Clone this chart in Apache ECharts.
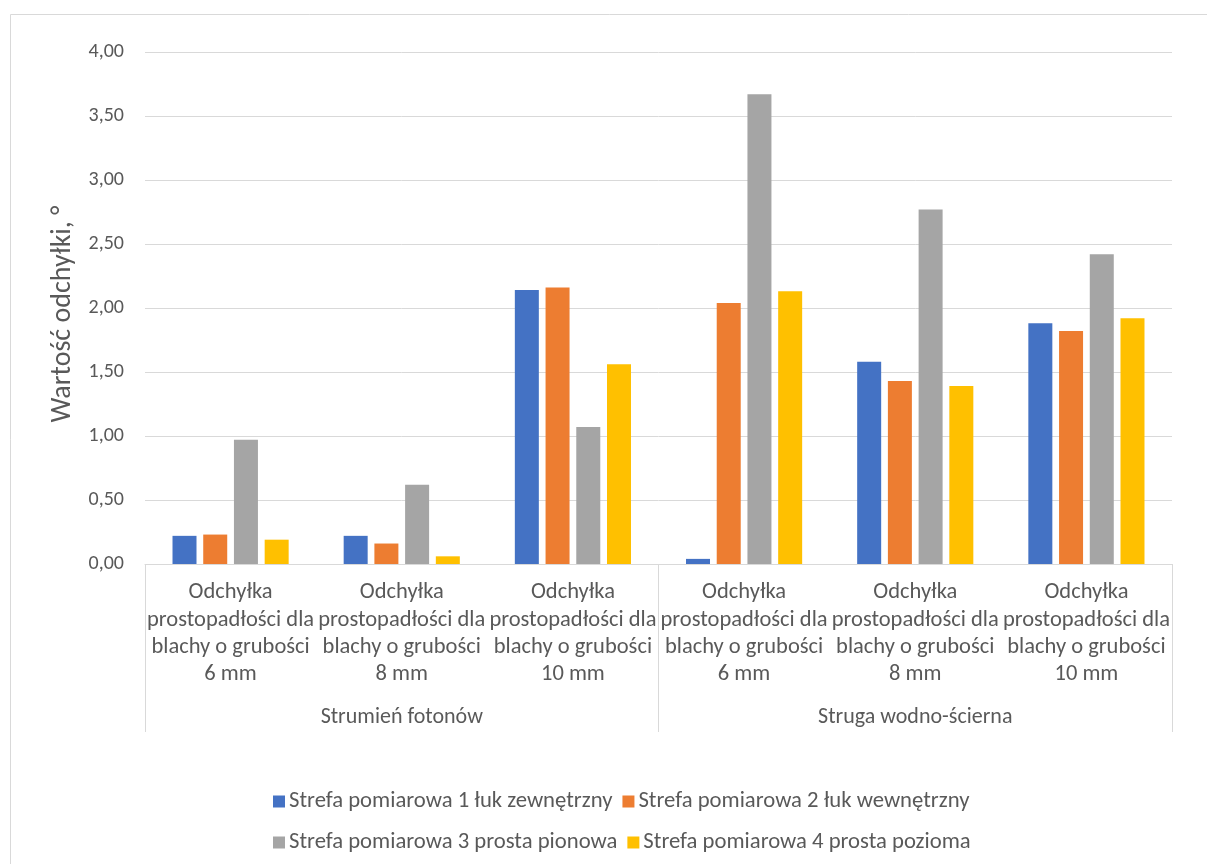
<!DOCTYPE html>
<html>
<head>
<meta charset="utf-8">
<script src="https://cdn.jsdelivr.net/npm/echarts@6/dist/echarts.min.js"></script>
<style>
  html, body { margin: 0; padding: 0; background: #ffffff; }
  #chart { width: 1207px; height: 864px; }
</style>
</head>
<body>
<div id="chart"></div>
<script>
// Categories (inner level) and groups (outer level)
const categories = [
  'Odchyłka\nprostopadłości dla\nblachy o grubości\n6 mm',
  'Odchyłka\nprostopadłości dla\nblachy o grubości\n8 mm',
  'Odchyłka\nprostopadłości dla\nblachy o grubości\n10 mm',
  'Odchyłka\nprostopadłości dla\nblachy o grubości\n6 mm',
  'Odchyłka\nprostopadłości dla\nblachy o grubości\n8 mm',
  'Odchyłka\nprostopadłości dla\nblachy o grubości\n10 mm'
];
const groups = ['Strumień fotonów', 'Struga wodno-ścierna'];

const seriesNames = [
  'Strefa pomiarowa 1 łuk zewnętrzny',
  'Strefa pomiarowa 2 łuk wewnętrzny',
  'Strefa pomiarowa 3 prosta pionowa',
  'Strefa pomiarowa 4 prosta pozioma'
];

// Values per measuring zone
const zone1 = [0.22, 0.22, 2.14, 0.04, 1.58, 1.88];
const zone2 = [0.23, 0.16, 2.16, 2.04, 1.43, 1.82];
const zone3 = [0.97, 0.62, 1.07, 3.67, 2.77, 2.42];
const zone4 = [0.19, 0.06, 1.56, 2.13, 1.39, 1.92];

const colors = ['#4472C4', '#ED7D31', '#A5A5A5', '#FFC000'];
const FONT = 'Calibri, Carlito, Lato, sans-serif';
const TEXT = '#595959';
const LINE = '#D9D9D9';

const chart = echarts.init(document.getElementById('chart'), null, { renderer: 'canvas' });

const makeSeries = (name, data, i) => ({
  name: name,
  type: 'bar',
  data: data,
  barWidth: 24,
  barGap: '28%',
  itemStyle: { color: colors[i] },
  emphasis: { disabled: true }
});

const legendRow = (names, top) => ({
  data: names,
  left: 268, top: top,
  icon: 'rect', itemWidth: 12, itemHeight: 12, itemGap: 10,
  textStyle: { color: TEXT, fontSize: 22.7, fontFamily: FONT, padding: [0, 0, 0, -1] },
  selectedMode: false
});

chart.setOption({
  animation: false,
  textStyle: { fontFamily: FONT },
  graphic: [{
    type: 'rect',
    shape: { x: 10.5, y: 14.5, width: 1250, height: 900 },
    style: { fill: 'none', stroke: LINE, lineWidth: 1 },
    silent: true
  }],
  grid: { left: 145, right: 35, top: 52, bottom: 300, containLabel: false },
  legend: [
    legendRow([seriesNames[0], seriesNames[1]], 785),
    legendRow([seriesNames[2], seriesNames[3]], 826)
  ],
  xAxis: [
    {
      type: 'category',
      data: categories,
      axisLine: { show: true, lineStyle: { color: LINE, width: 1 } },
      axisTick: { show: false },
      axisLabel: {
        interval: 0, color: TEXT, fontSize: 22.5, lineHeight: 27.3,
        margin: 15, fontFamily: FONT
      },
      splitLine: { show: false }
    },
    {
      type: 'category',
      data: groups,
      position: 'bottom',
      axisLine: { show: false },
      axisTick: { show: true, length: 168, lineStyle: { color: LINE, width: 1 } },
      axisLabel: { color: TEXT, fontSize: 22, margin: 142, fontFamily: FONT },
      splitLine: { show: false }
    }
  ],
  yAxis: {
    type: 'value',
    min: 0, max: 4, interval: 0.5,
    name: 'Wartość odchyłki, °',
    nameLocation: 'middle',
    nameRotate: 90,
    nameGap: 68,
    nameTextStyle: { color: TEXT, fontSize: 28, fontFamily: FONT, padding: [0, 12, 0, 0] },
    axisLine: { show: false },
    axisTick: { show: false },
    axisLabel: {
      color: TEXT, fontSize: 20, margin: 21, fontFamily: FONT,
      formatter: v => v.toFixed(2).replace('.', ',')
    },
    splitLine: { lineStyle: { color: LINE, width: 1 } }
  },
  series: [
    makeSeries(seriesNames[0], zone1, 0),
    makeSeries(seriesNames[1], zone2, 1),
    makeSeries(seriesNames[2], zone3, 2),
    makeSeries(seriesNames[3], zone4, 3)
  ]
});
</script>
</body>
</html>
